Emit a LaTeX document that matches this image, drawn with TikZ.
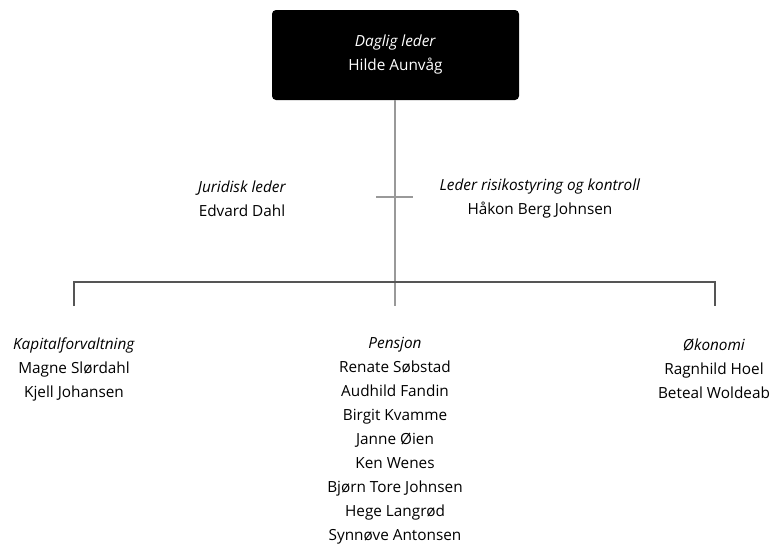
\documentclass[tikz,border=0pt]{standalone}
\usepackage{fontspec}
\setmainfont{Open Sans}
\definecolor{linegrey}{HTML}{555555}
\definecolor{stemgrey}{HTML}{999999}
\tikzset{
  unit/.style={align=center, font=\fontsize{11.5}{18}\selectfont, inner sep=0pt},
  chief/.style={unit, fill=black, text=white, rounded corners=3pt,
    minimum width=247*0.75pt, minimum height=90*0.75pt},
  orgline/.style={draw=linegrey, line width=0.8pt},
  stem/.style={draw=stemgrey, line width=1pt}
}
\begin{document}
\begin{tikzpicture}[x=0.75pt, y=-0.75pt]
    \useasboundingbox (0,0) rectangle (775,544);

    % Top box
    \node[chief] (leder) at (395.5,55) {\textit{Daglig leder}\\Hilde Aunvåg};

    % Staff functions
    \node[unit] (jur) at (242,199) {\textit{Juridisk leder}\\Edvard Dahl};
    \node[unit] (risk) at (540,199) {\textit{Leder risikostyring og kontroll}\\Håkon Berg Johnsen};

    % Departments
    \node[unit] (kap) at (74,369) {\textit{Kapitalforvaltning}\\Magne Slørdahl\\Kjell Johansen};
    \node[unit] (pen) at (395,441) {\textit{Pensjon}\\Renate Søbstad\\Audhild Fandin\\Birgit Kvamme\\Janne Øien\\Ken Wenes\\Bjørn Tore Johnsen\\Hege Langrød\\Synnøve Antonsen};
    \node[unit] (oko) at (714,369) {\textit{Økonomi}\\Ragnhild Hoel\\Beteal Woldeab};

    % Junction points
    \coordinate (stemend) at (395,306);
    \coordinate (tickl) at (376,197);
    \coordinate (tickr) at (413,197);
    \coordinate (kaptop) at (74,306);
    \coordinate (okotop) at (715,306);

    % Lines
    \draw[stem] (leder.south -| stemend) -- (stemend);
    \draw[stem] (tickl) -- (tickr);
    \draw[orgline] (kaptop) |- (74,282) -- (715,282) -- (okotop);
\end{tikzpicture}
\end{document}
